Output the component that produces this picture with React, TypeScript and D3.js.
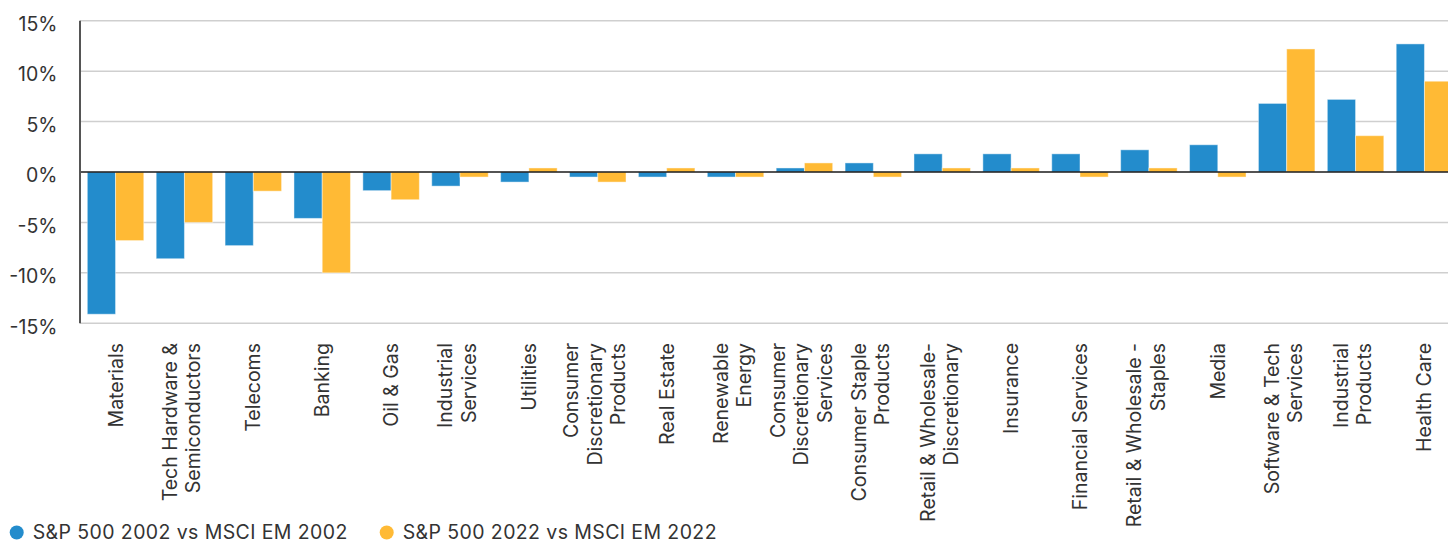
import * as d3 from "d3"

// sector labels, split into the lines shown on the rotated axis
const categories: string[][] = [
  ["Materials"],
  ["Tech Hardware &", "Semiconductors"],
  ["Telecoms"],
  ["Banking"],
  ["Oil & Gas"],
  ["Industrial", "Services"],
  ["Utilities"],
  ["Consumer", "Discretionary", "Products"],
  ["Real Estate"],
  ["Renewable", "Energy"],
  ["Consumer", "Discretionary", "Services"],
  ["Consumer Staple", "Products"],
  ["Retail & Wholesale-", "Discretionary"],
  ["Insurance"],
  ["Financial Services"],
  ["Retail & Wholesale -", "Staples"],
  ["Media"],
  ["Software & Tech", "Services"],
  ["Industrial", "Products"],
  ["Health Care"],
]

const series2002 = [
  -14.1, -8.6, -7.3, -4.6, -1.85, -1.4, -1.0, -0.5, -0.5, -0.5, 0.4, 0.9, 1.8, 1.8, 1.8, 2.2, 2.7, 6.8, 7.2,
  12.7,
]
const series2022 = [
  -6.8, -5.0, -1.9, -10.0, -2.75, -0.5, 0.4, -1.0, 0.4, -0.5, 0.9, -0.5, 0.4, 0.4, -0.5, 0.4, -0.5, 12.2, 3.6,
  9.0,
]

const seriesNames = ["S&P 500 2002 vs MSCI EM 2002", "S&P 500 2022 vs MSCI EM 2022"]
const seriesColors = ["#238ccc", "#ffba35"]
const yTicks = [15, 10, 5, 0, -5, -10, -15]

const FONT = "Inter, 'Noto Sans', sans-serif"
const TEXT = "#333333"

export default function App() {
  const width = 1448
  const height = 544
  const left = 80
  const top = 20.7
  const bottom = 323.3

  const keys = categories.map((c) => c.join(" "))

  const x = d3
    .scaleBand<string>()
    .domain(keys)
    .range([left, 1460])
    .paddingInner(0.18)
    .paddingOuter(0.106)

  const xs = d3.scaleBand<number>().domain([0, 1]).range([0, x.bandwidth()])

  const y = d3.scaleLinear().domain([-15, 15]).range([bottom, top])

  const allSeries = [series2002, series2022]
  const fontSize = 19.5
  const lineH = 23.4

  return (
    <svg
      width={width}
      height={height}
      style={{ position: "absolute", left: 0, top: 0, background: "#fff" }}
      fontFamily={FONT}
    >
      {/* grid */}
      {yTicks.map((t) => (
        <line
          key={t}
          x1={left}
          x2={width}
          y1={y(t)}
          y2={y(t)}
          stroke={t === 0 ? "none" : "#cfcfcf"}
          strokeWidth={1.5}
        />
      ))}
      {yTicks.map((t) => (
        <text
          key={"l" + t}
          x={57.5}
          y={y(t) + 3.5}
          dy="0.35em"
          textAnchor="end"
          fontSize={fontSize}
          fill={TEXT}
        >
          {t}%
        </text>
      ))}

      {/* bars */}
      {allSeries.map((vals, si) =>
        vals.map((v, i) => {
          const x0 = (x(keys[i]) ?? 0) + (xs(si) ?? 0)
          const y0 = y(Math.max(0, v))
          const h = Math.abs(y(v) - y(0))
          return (
            <rect
              key={si + "-" + i}
              x={x0}
              y={y0}
              width={xs.bandwidth()}
              height={h}
              fill={seriesColors[si]}
              stroke="rgba(255,255,255,0.45)"
              strokeWidth={1}
            />
          )
        }),
      )}

      {/* zero line and left axis */}
      <line x1={left} x2={width} y1={y(0)} y2={y(0)} stroke="#1a1a1a" strokeWidth={1.6} />
      <line x1={left} x2={left} y1={top} y2={bottom} stroke="#555555" strokeWidth={2} />

      {/* category labels */}
      {categories.map((lines, i) => {
        const cx = (x(keys[i]) ?? 0) + x.bandwidth() / 2
        const n = lines.length
        return lines.map((ln, j) => {
          const bx = cx + (j - (n - 1) / 2) * lineH + 7 - (n > 1 ? 3 : 0)
          return (
            <text
              key={i + "-" + j}
              transform={`translate(${bx},343) rotate(-90)`}
              textAnchor="end"
              fontSize={fontSize}
              fill={TEXT}
            >
              {ln}
            </text>
          )
        })
      })}

      {/* legend */}
      {seriesNames.map((name, i) => {
        const lx = i === 0 ? 16.7 : 386.7
        return (
          <g key={name}>
            <circle cx={lx} cy={532.5} r={7} fill={seriesColors[i]} />
            <text x={lx + 16} y={539} fontSize={fontSize} letterSpacing={0.4} fill={TEXT}>
              {name}
            </text>
          </g>
        )
      })}
    </svg>
  )
}
